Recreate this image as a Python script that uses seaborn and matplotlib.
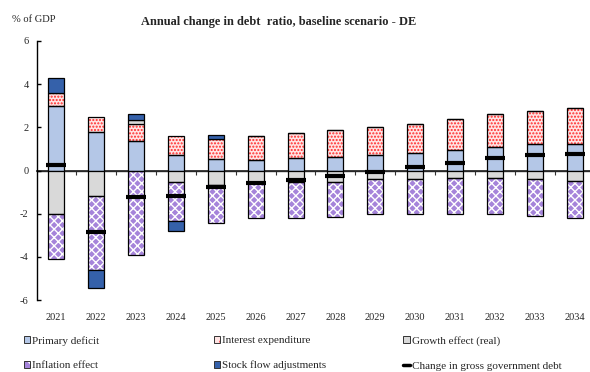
import numpy as np
import matplotlib
matplotlib.use("Agg")
import matplotlib.pyplot as plt
import seaborn as sns
from matplotlib.patches import Patch
from matplotlib.lines import Line2D

years = [str(y) for y in range(2021, 2035)]
primary_deficit = [2.97, 1.78, 1.35, 0.70, 0.54, 0.50, 0.60, 0.64, 0.72, 0.79, 0.93, 1.08, 1.21, 1.24]
interest_exp = [0.60, 0.71, 0.82, 0.88, 0.93, 1.08, 1.13, 1.22, 1.29, 1.38, 1.47, 1.52, 1.55, 1.67]
growth_effect = [-2.03, -1.16, 0.17, -0.52, -0.68, -0.58, -0.55, -0.54, -0.40, -0.40, -0.37, -0.37, -0.40, -0.48]
inflation_effect = [-2.06, -3.46, -3.91, -1.84, -1.77, -1.62, -1.65, -1.60, -1.61, -1.61, -1.66, -1.65, -1.69, -1.72]
stock_flow = [0.71, -0.84, 0.26, -0.43, 0.18, 0, 0, 0, 0, 0, 0, 0, 0, 0]
change_debt = [0.26, -2.87, -1.24, -1.19, -0.78, -0.56, -0.46, -0.25, -0.05, 0.14, 0.36, 0.59, 0.71, 0.75]

sns.set_theme(style="white")
plt.rcParams["font.family"] = ["Liberation Serif", "DejaVu Serif"]
plt.rcParams["axes.unicode_minus"] = False
plt.rcParams["hatch.linewidth"] = 1.0

fig = plt.figure(figsize=(5.9, 3.72), dpi=100)
ax = fig.add_axes([0.0627, 0.1935, 0.9373, 0.6963])

x = np.arange(len(years))
width = 0.40

components = [
    ("Primary deficit", primary_deficit, "#B4C7E7", None, None),
    ("Interest expenditure", interest_exp, "#FFE4E4", ".....", "#FF2A2A"),
    ("Growth effect (real)", growth_effect, "#D9D9D9", None, None),
    ("Inflation effect", inflation_effect, "#A584DA", "xxxx", "#FFFFFF"),
    ("Stock flow adjustments", stock_flow, "#3561AA", None, None),
]

pos_base = np.zeros(len(years))
neg_base = np.zeros(len(years))
handles = []
for label, vals, fc, hatch, hc in components:
    v = np.array(vals, dtype=float)
    bottoms = np.where(v >= 0, pos_base, neg_base)
    if hatch:
        ax.bar(x, v, width, bottom=bottoms, facecolor=fc, hatch=hatch,
               edgecolor=hc, linewidth=0, zorder=2)
        ax.bar(x, v, width, bottom=bottoms, fill=False,
               edgecolor="black", linewidth=0.9, zorder=3)
        h = (Patch(facecolor=fc, hatch=hatch[:2], edgecolor=hc, linewidth=0),
             Patch(fill=False, edgecolor="#333333", linewidth=0.7))
    else:
        ax.bar(x, v, width, bottom=bottoms, color=fc,
               edgecolor="black", linewidth=0.9, zorder=3)
        h = Patch(facecolor=fc, edgecolor="#333333", linewidth=0.7)
    handles.append((h, label))
    pos_base = pos_base + np.where(v >= 0, v, 0)
    neg_base = neg_base + np.where(v < 0, v, 0)

sns.scatterplot(x=x, y=change_debt, marker="_", s=190, linewidth=3.0,
                color="black", ax=ax, zorder=5, legend=False)

ax.set_ylim(-6, 6)
ax.set_xlim(-0.48, 13.38)
ax.set_yticks([-6, -4, -2, 0, 2, 4, 6])
ax.set_yticklabels(["-6", "-4", "-2", "0", "2", "4", "6"])
ax.tick_params(axis="y", direction="in", length=3, width=1, color="black",
               labelsize=7.5, pad=6, left=True)
ax.set_xticks(x)
ax.set_xticklabels(years)
ax.tick_params(axis="x", length=0, labelsize=7.5, pad=9)
for s in ["top", "right", "bottom"]:
    ax.spines[s].set_visible(False)
ax.spines["left"].set_color("black")
ax.spines["left"].set_linewidth(1.0)
ax.grid(False)
ax.set_xlabel("")
ax.set_ylabel("")

zero_ax = ax.secondary_xaxis(0.5)
zero_ax.set_xticks(x[:-1] + 0.5)
zero_ax.tick_params(axis="x", direction="in", length=3, width=0.8, color="#333333",
                    labelbottom=False, labeltop=False)
zero_ax.spines["bottom"].set_color("#333333")
zero_ax.spines["bottom"].set_linewidth(1.0)
zero_ax.spines["bottom"].set_visible(True)

fig.text(0.473, 0.94, "Annual change in debt  ratio, baseline scenario - DE",
         ha="center", va="center", fontsize=8.9, fontweight="bold")
fig.text(0.02, 0.947, "% of GDP", ha="left", va="center", fontsize=7.6)

marker_handle = Line2D([0], [0], color="black", linewidth=2.5)
cols = [
    [handles[0], handles[3]],
    [handles[1], handles[4]],
    [handles[2], (marker_handle, "Change in gross government debt")],
]
xpos = [0.040, 0.362, 0.683]
for cx, col in zip(xpos, cols):
    leg = fig.legend([c[0] for c in col], [c[1] for c in col],
                     loc="upper left", bbox_to_anchor=(cx, 0.097),
                     frameon=False, fontsize=8, handlelength=0.6, handleheight=0.6,
                     handletextpad=0.2, labelspacing=1.38, borderpad=0, borderaxespad=0)

fig.savefig("out.png", dpi=100)
